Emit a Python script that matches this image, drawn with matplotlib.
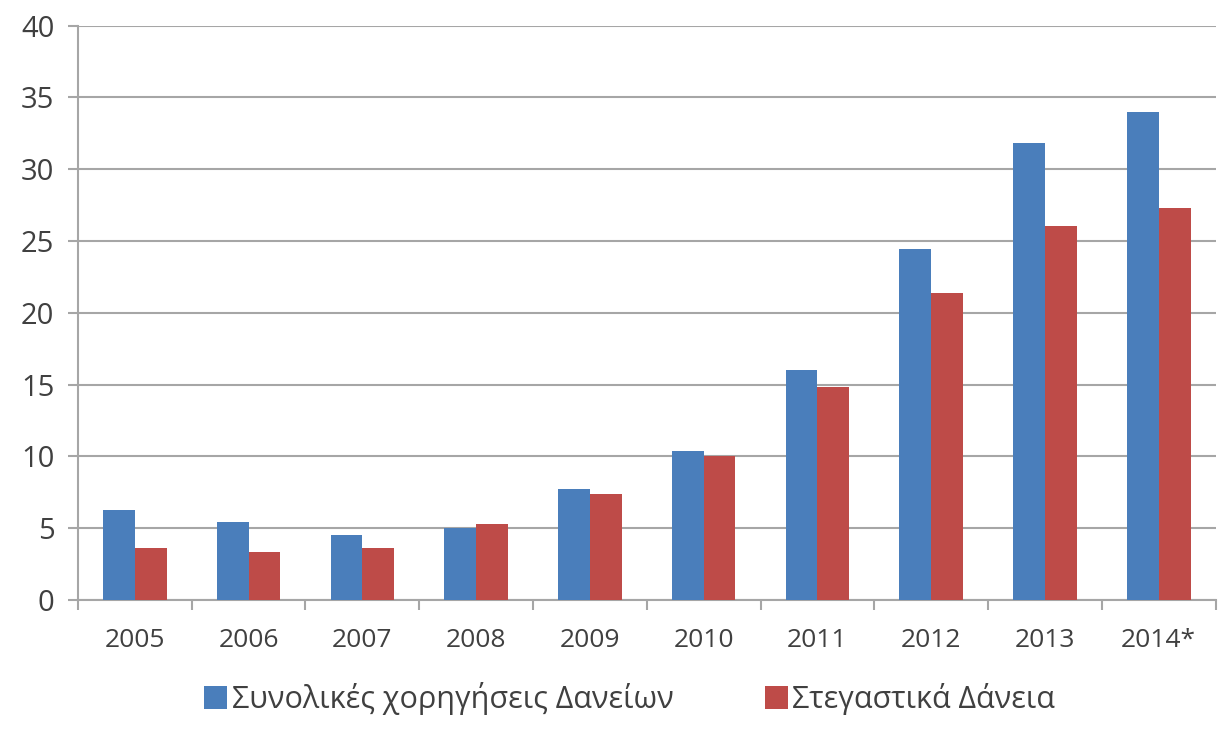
import matplotlib.pyplot as plt
import numpy as np

plt.rcParams['font.family'] = ['Open Sans', 'DejaVu Sans']

years = ['2005', '2006', '2007', '2008', '2009', '2010', '2011', '2012', '2013', '2014*']
total_loans = [6.27, 5.46, 4.53, 5.0, 7.7, 10.4, 16.0, 24.44, 31.85, 34.0]
housing_loans = [3.6, 3.37, 3.6, 5.3, 7.4, 10.0, 14.8, 21.36, 26.06, 27.29]

blue = '#4A7EBB'
red = '#BE4B48'
grey = '#A6A6A6'

fig, ax = plt.subplots(figsize=(12.18, 7.3), dpi=100)
fig.subplots_adjust(left=0.064, right=0.998, top=0.965, bottom=0.178)

x = np.arange(len(years))
w = 0.28
ax.bar(x - w/2, total_loans, w, color=blue, label='Συνολικές χορηγήσεις Δανείων', zorder=3)
ax.bar(x + w/2, housing_loans, w, color=red, label='Στεγαστικά Δάνεια', zorder=3)

ax.set_xlim(-0.5, len(years) - 0.5)
ax.set_ylim(0, 40)
ax.set_yticks(range(0, 41, 5))
ax.set_xticks(x)
ax.set_xticklabels(years)
ax.set_xticks(np.arange(-0.5, len(years), 1), minor=True)

ax.grid(axis='y', color=grey, linewidth=1.5, zorder=0)
for s in ['top', 'right']:
    ax.spines[s].set_visible(False)
ax.spines['left'].set_color(grey)
ax.spines['bottom'].set_color(grey)
ax.spines['left'].set_linewidth(1.5)
ax.spines['bottom'].set_linewidth(1.5)

ax.tick_params(axis='x', which='major', length=0, pad=20, labelsize=19, labelcolor='#404040')
ax.tick_params(axis='x', which='minor', length=7, width=1.5, color=grey)
ax.tick_params(axis='y', length=7, width=1.5, color=grey, pad=10, labelsize=21, labelcolor='#404040')

ax.legend(loc='upper center', bbox_to_anchor=(0.485, -0.095), ncol=2, frameon=False,
          fontsize=22, handlelength=0.75, handleheight=0.75, handletextpad=0.15,
          columnspacing=3.0, labelcolor='#404040')

plt.savefig('out.png')
